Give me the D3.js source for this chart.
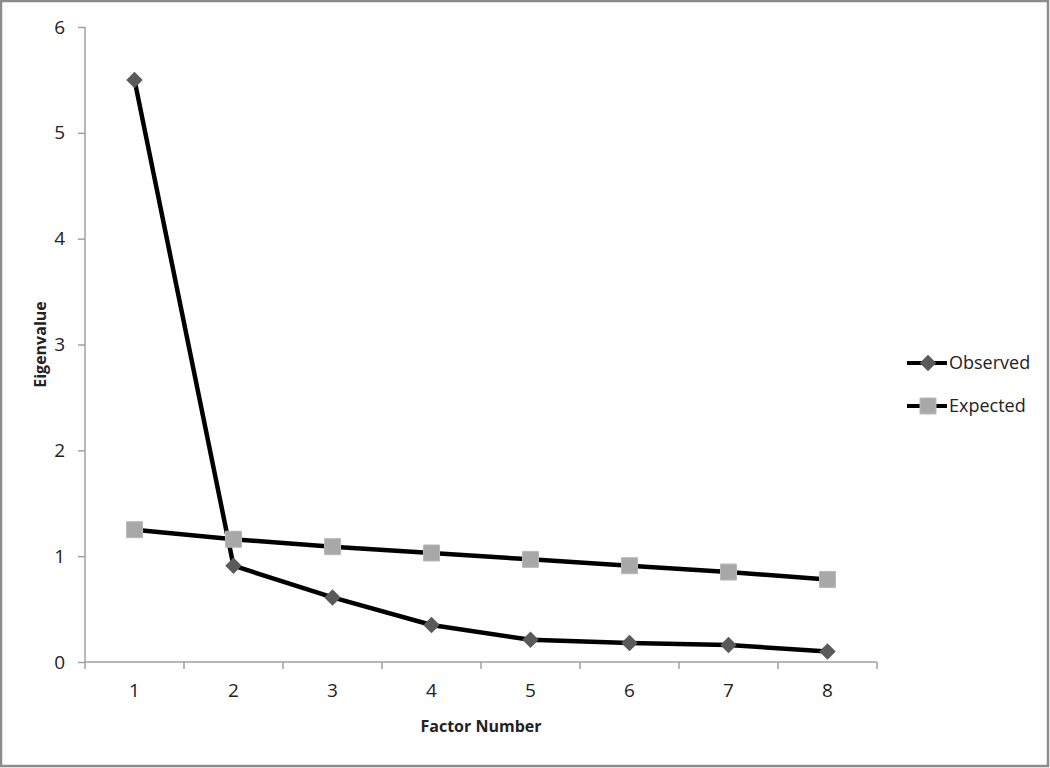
<!DOCTYPE html>
<html lang="en">
<head>
<meta charset="utf-8">
<title>Scree plot</title>
<script src="https://d3js.org/d3.v7.min.js"></script>
<style>
  body { margin: 0; background: #fff; }
  svg { display: block; font-family: "Open Sans", "Noto Sans", sans-serif; }
</style>
</head>
<body>
<script>
var factors = [1, 2, 3, 4, 5, 6, 7, 8];
var observed = [5.5, 0.91, 0.61, 0.35, 0.21, 0.18, 0.16, 0.10];
var expected = [1.25, 1.16, 1.09, 1.03, 0.97, 0.91, 0.85, 0.78];
var yTicks = [0, 1, 2, 3, 4, 5, 6];
var seriesNames = ["Observed", "Expected"];

var width = 1050, height = 768;
var svg = d3.select("body").append("svg")
    .attr("width", width)
    .attr("height", height);

// outer border
svg.append("rect")
    .attr("x", 1).attr("y", 1)
    .attr("width", width - 3).attr("height", height - 3)
    .attr("fill", "#fff")
    .attr("stroke", "#8c8c8c")
    .attr("stroke-width", 2.5);

var plotLeft = 85, plotRight = 877, plotTop = 27, plotBottom = 662;

var x = d3.scaleBand().domain(factors).range([plotLeft, plotRight]);
var y = d3.scaleLinear().domain([0, 6]).range([plotBottom, plotTop]);

// y axis
var yAxis = svg.append("g")
    .attr("transform", "translate(" + plotLeft + ",0)")
    .call(d3.axisLeft(y).tickValues(yTicks).tickFormat(d3.format("d")).tickSize(7).tickPadding(13));
yAxis.selectAll("path, line").attr("stroke", "#a0a0a0").attr("stroke-width", 1.5);
yAxis.select(".domain").attr("d", "M0," + plotTop + "V" + plotBottom);
yAxis.selectAll("text").attr("font-size", 19).attr("fill", "#222")
    .attr("font-family", "Open Sans, sans-serif");

// x axis
var xAxis = svg.append("g")
    .attr("transform", "translate(0," + plotBottom + ")")
    .call(d3.axisBottom(x).tickSize(0).tickPadding(22));
xAxis.select(".domain").attr("stroke", "#a0a0a0").attr("stroke-width", 1.5)
    .attr("d", "M" + plotLeft + ",0H" + plotRight);
xAxis.selectAll("text").attr("font-size", 19).attr("fill", "#222")
    .attr("font-family", "Open Sans, sans-serif");
// boundary ticks between categories
var bounds = factors.map(function(d) { return x(d); }).concat([plotRight]);
xAxis.selectAll(".bound").data(bounds).enter().append("line")
    .attr("x1", function(d) { return d; })
    .attr("x2", function(d) { return d; })
    .attr("y1", 0).attr("y2", 7)
    .attr("stroke", "#a0a0a0").attr("stroke-width", 1.5);

// axis titles
svg.append("text")
    .attr("transform", "translate(46," + (plotTop + plotBottom) / 2 + ") rotate(-90)")
    .attr("text-anchor", "middle")
    .attr("font-size", 16).attr("font-weight", "bold").attr("fill", "#222")
    .text("Eigenvalue");
svg.append("text")
    .attr("x", (plotLeft + plotRight) / 2).attr("y", 732)
    .attr("text-anchor", "middle")
    .attr("font-size", 16).attr("font-weight", "bold").attr("fill", "#222")
    .text("Factor Number");

var cx = function(d, i) { return x(factors[i]) + x.bandwidth() / 2; };
var line = d3.line().x(cx).y(function(d) { return y(d); });

// lines
[observed, expected].forEach(function(s) {
  svg.append("path").datum(s)
      .attr("d", line)
      .attr("fill", "none")
      .attr("stroke", "#000")
      .attr("stroke-width", 4.5)
      .attr("stroke-linejoin", "round");
});

var diamond = d3.symbol().type(d3.symbolSquare).size(135);
var square = d3.symbol().type(d3.symbolSquare).size(256);

svg.append("g").selectAll("path").data(observed).enter().append("path")
    .attr("d", diamond)
    .attr("transform", function(d, i) { return "translate(" + cx(d, i) + "," + y(d) + ") rotate(45)"; })
    .attr("fill", "#5a5a5a");

svg.append("g").selectAll("path").data(expected).enter().append("path")
    .attr("d", square)
    .attr("transform", function(d, i) { return "translate(" + cx(d, i) + "," + y(d) + ")"; })
    .attr("fill", "#a8a8a8")
    .attr("stroke", "#b8b8b8").attr("stroke-width", 1);

// legend
var legend = svg.append("g").attr("transform", "translate(907,363)");
seriesNames.forEach(function(name, i) {
  var g = legend.append("g").attr("transform", "translate(0," + (i * 43) + ")");
  g.append("line").attr("x1", 0).attr("x2", 40).attr("y1", 0).attr("y2", 0)
      .attr("stroke", "#000").attr("stroke-width", 4);
  if (i === 0) {
    g.append("path").attr("d", diamond).attr("transform", "translate(21,0) rotate(45)")
        .attr("fill", "#5a5a5a");
  } else {
    g.append("path").attr("d", square).attr("transform", "translate(21,0)")
        .attr("fill", "#a8a8a8").attr("stroke", "#b8b8b8");
  }
  g.append("text").attr("x", 42).attr("y", 0).attr("dy", "0.35em")
      .attr("font-size", 18).attr("fill", "#222")
      .text(name);
});
</script>
</body>
</html>
